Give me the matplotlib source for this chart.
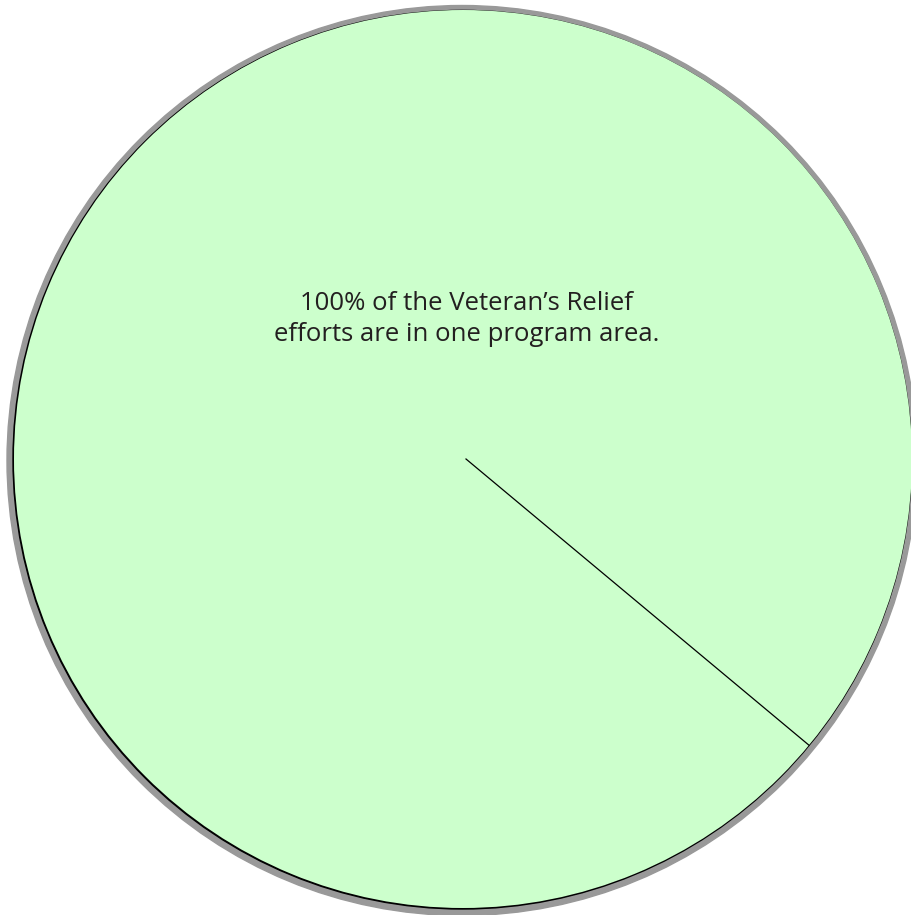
import numpy as np
import matplotlib.pyplot as plt
from matplotlib.patches import Circle

# data
shares = [100]
colors = ["#ccffcc"]
note = "100% of the Veteran\u2019s Relief\nefforts are in one program area."
start_angle = -39.6

W, H = 912, 915
fig = plt.figure(figsize=(W / 100, H / 100), dpi=100)
ax = fig.add_axes([0, 0, 1, 1])

cx, cy = 463, H - 459
r = 449

# grey drop shadow and thin dark rim, offset down-left
ax.add_patch(Circle((cx - 1, cy - 1.5), r + 6, color="#999999", zorder=0))
ax.add_patch(Circle((cx - 0.7, cy - 0.7), r + 0.3, color="black", zorder=0.5))

ax.pie(shares, colors=colors, startangle=start_angle, counterclock=True,
       center=(cx, cy), radius=r, frame=True,
       wedgeprops=dict(edgecolor="none", linewidth=0))
ax.set_xlim(0, W)
ax.set_ylim(0, H)
ax.set_aspect("equal")
ax.axis("off")

# the single slice boundary
a = np.deg2rad(start_angle)
ax.plot([cx + 3, cx + r * np.cos(a)], [cy, cy + r * np.sin(a)], color="black", lw=0.9, zorder=3)

ax.text(467, H - 319, note, ha="center", va="center", fontsize=18.5,
        family="Open Sans", color="#231f20", linespacing=1.32, zorder=4)

fig.savefig("out.png", dpi=100)
